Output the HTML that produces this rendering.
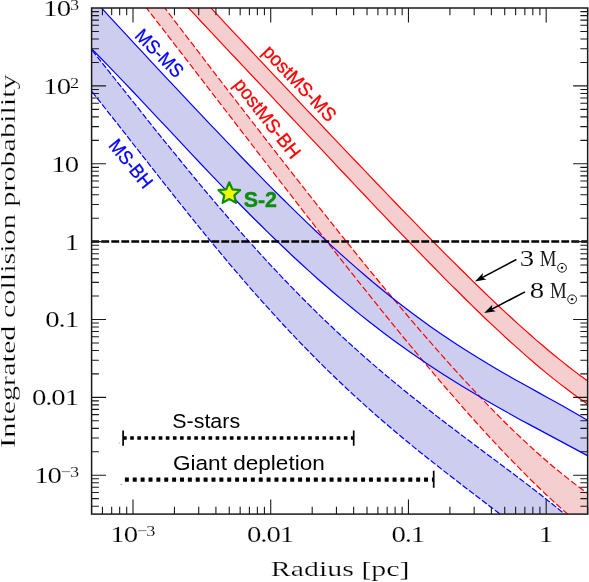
<!DOCTYPE html>
<html><head><meta charset="utf-8"><title>Integrated collision probability</title>
<style>html,body{margin:0;padding:0;background:#fff;}body{width:589px;height:582px;position:relative;overflow:hidden;font-family:"Liberation Sans",sans-serif;}</style>
</head><body>
<svg width="589" height="582" viewBox="0 0 589 582" style="position:absolute;left:0;top:0;will-change:transform;opacity:0.9999">
<defs><clipPath id="pc"><rect x="91.6" y="8.0" width="496.04999999999995" height="506.1"/></clipPath></defs>
<rect x="0" y="0" width="589" height="582" fill="#ffffff"/>
<g clip-path="url(#pc)">
<path d="M124.6 -44.9 L164.6 7.6 L171.7 17.0 L178.8 26.3 L185.9 35.6 L193.1 44.9 L200.2 54.2 L207.3 63.5 L214.4 72.8 L221.5 82.0 L228.6 91.3 L235.8 100.5 L242.9 109.7 L250.0 118.9 L257.1 128.1 L264.2 137.3 L271.3 146.4 L278.4 155.6 L285.6 164.7 L292.7 173.8 L299.8 182.8 L306.9 191.9 L314.0 200.9 L321.1 209.9 L328.3 218.9 L335.4 227.8 L342.5 236.7 L349.6 245.5 L356.7 254.3 L363.8 263.1 L370.9 271.8 L378.1 280.5 L385.2 289.1 L392.3 297.6 L399.4 306.1 L406.5 314.5 L413.6 322.9 L420.7 331.2 L427.9 339.4 L435.0 347.6 L442.1 355.6 L449.2 363.6 L456.3 371.4 L463.4 379.2 L470.6 386.9 L477.7 394.4 L484.8 401.9 L491.9 409.2 L499.0 416.4 L506.1 423.5 L513.2 430.4 L520.4 437.2 L527.5 443.9 L534.6 450.4 L541.7 456.7 L548.8 462.9 L555.9 468.9 L563.1 474.7 L570.2 480.4 L577.3 485.8 L584.4 491.0 L644.4 535.3 L627.2 567.1 L567.2 513.8 L560.1 507.4 L552.9 500.9 L545.8 494.3 L538.7 487.5 L531.5 480.5 L524.4 473.4 L517.3 466.2 L510.1 458.9 L503.0 451.4 L495.9 443.9 L488.7 436.2 L481.6 428.4 L474.5 420.5 L467.3 412.5 L460.2 404.4 L453.1 396.2 L445.9 388.0 L438.8 379.7 L431.7 371.3 L424.5 362.8 L417.4 354.2 L410.3 345.6 L403.1 337.0 L396.0 328.2 L388.9 319.4 L381.7 310.6 L374.6 301.7 L367.5 292.8 L360.3 283.9 L353.2 274.9 L346.0 265.9 L338.9 256.8 L331.8 247.7 L324.6 238.6 L317.5 229.5 L310.4 220.3 L303.2 211.1 L296.1 201.9 L289.0 192.7 L281.8 183.5 L274.7 174.3 L267.6 165.0 L260.4 155.8 L253.3 146.5 L246.2 137.2 L239.0 128.0 L231.9 118.7 L224.8 109.5 L217.6 100.2 L210.5 90.9 L203.4 81.7 L196.2 72.4 L189.1 63.1 L182.0 53.9 L174.8 44.6 L167.7 35.4 L160.6 26.2 L153.4 16.9 L146.3 7.7 L106.3 -44.0Z" fill="#f5cfcf"/>
<path d="M170.6 -35.6 L210.6 7.5 L217.0 14.4 L223.4 21.3 L229.7 28.1 L236.1 34.9 L242.5 41.7 L248.9 48.5 L255.3 55.3 L261.7 62.1 L268.0 68.9 L274.4 75.6 L280.8 82.4 L287.2 89.1 L293.6 95.8 L299.9 102.6 L306.3 109.3 L312.7 116.0 L319.1 122.7 L325.5 129.5 L331.8 136.2 L338.2 142.9 L344.6 149.6 L351.0 156.3 L357.4 163.0 L363.8 169.7 L370.1 176.3 L376.5 183.0 L382.9 189.7 L389.3 196.3 L395.7 203.0 L402.0 209.6 L408.4 216.2 L414.8 222.7 L421.2 229.3 L427.6 235.8 L433.9 242.3 L440.3 248.8 L446.7 255.3 L453.1 261.7 L459.5 268.0 L465.9 274.3 L472.2 280.6 L478.6 286.8 L485.0 293.0 L491.4 299.1 L497.8 305.2 L504.1 311.1 L510.5 317.0 L516.9 322.9 L523.3 328.6 L529.7 334.3 L536.0 339.9 L542.4 345.3 L548.8 350.7 L555.2 356.0 L561.6 361.1 L568.0 366.2 L574.3 371.1 L580.7 375.9 L587.1 380.5 L647.1 424.1 L647.1 445.9 L587.1 403.8 L580.3 399.1 L573.6 394.2 L566.8 389.1 L560.0 383.9 L553.3 378.6 L546.5 373.1 L539.7 367.5 L533.0 361.7 L526.2 355.9 L519.5 349.9 L512.7 343.9 L505.9 337.7 L499.2 331.4 L492.4 325.1 L485.6 318.7 L478.9 312.2 L472.1 305.6 L465.3 299.0 L458.6 292.3 L451.8 285.6 L445.0 278.8 L438.3 271.9 L431.5 265.0 L424.8 258.1 L418.0 251.1 L411.2 244.1 L404.5 237.1 L397.7 230.1 L390.9 223.0 L384.2 215.9 L377.4 208.8 L370.6 201.6 L363.9 194.5 L357.1 187.3 L350.3 180.2 L343.6 173.0 L336.8 165.8 L330.1 158.6 L323.3 151.4 L316.5 144.2 L309.8 137.1 L303.0 129.9 L296.2 122.7 L289.5 115.5 L282.7 108.3 L275.9 101.1 L269.2 93.9 L262.4 86.7 L255.6 79.5 L248.9 72.4 L242.1 65.2 L235.4 58.0 L228.6 50.8 L221.8 43.6 L215.1 36.4 L208.3 29.2 L201.5 22.0 L194.8 14.7 L188.0 7.5 L148.0 -35.4Z" fill="#f5cfcf"/>
<path d="M51.7 -0.1 L91.7 49.8 L99.7 59.9 L107.7 69.9 L115.7 80.0 L123.8 90.1 L131.8 100.1 L139.8 110.2 L147.8 120.3 L155.8 130.3 L163.8 140.3 L171.9 150.2 L179.9 160.0 L187.9 169.8 L195.9 179.5 L203.9 189.2 L211.9 198.7 L219.9 208.1 L228.0 217.5 L236.0 226.7 L244.0 235.8 L252.0 244.7 L260.0 253.6 L268.0 262.3 L276.1 270.9 L284.1 279.4 L292.1 287.7 L300.1 295.9 L308.1 303.9 L316.1 311.9 L324.1 319.6 L332.2 327.3 L340.2 334.8 L348.2 342.2 L356.2 349.4 L364.2 356.6 L372.2 363.6 L380.2 370.5 L388.3 377.3 L396.3 383.9 L404.3 390.5 L412.3 397.0 L420.3 403.3 L428.3 409.6 L436.4 415.9 L444.4 422.0 L452.4 428.1 L460.4 434.2 L468.4 440.2 L476.4 446.2 L484.4 452.2 L492.5 458.2 L500.5 464.2 L508.5 470.2 L516.5 476.2 L524.5 482.3 L532.5 488.5 L540.6 494.7 L548.6 501.1 L556.6 507.5 L564.6 514.1 L624.6 563.2 L557.0 557.7 L497.0 511.8 L490.1 506.5 L483.3 501.3 L476.4 496.0 L469.5 490.8 L462.6 485.5 L455.8 480.2 L448.9 474.9 L442.0 469.5 L435.2 464.1 L428.3 458.7 L421.4 453.2 L414.5 447.6 L407.7 442.0 L400.8 436.3 L393.9 430.5 L387.1 424.7 L380.2 418.8 L373.3 412.7 L366.4 406.6 L359.6 400.4 L352.7 394.1 L345.8 387.7 L339.0 381.2 L332.1 374.6 L325.2 367.9 L318.3 361.1 L311.5 354.2 L304.6 347.2 L297.7 340.0 L290.9 332.8 L284.0 325.5 L277.1 318.0 L270.3 310.5 L263.4 302.9 L256.5 295.1 L249.6 287.3 L242.8 279.4 L235.9 271.4 L229.0 263.3 L222.2 255.1 L215.3 246.8 L208.4 238.5 L201.5 230.1 L194.7 221.6 L187.8 213.1 L180.9 204.5 L174.1 195.9 L167.2 187.2 L160.3 178.5 L153.4 169.7 L146.6 161.0 L139.7 152.2 L132.8 143.5 L126.0 134.7 L119.1 125.9 L112.2 117.2 L105.3 108.5 L98.5 99.9 L91.6 91.2 L51.6 41.1Z" fill="#cdcdf0"/>
<path d="M61.5 -35.7 L101.5 7.9 L109.7 16.9 L118.0 25.8 L126.2 34.7 L134.4 43.6 L142.7 52.4 L150.9 61.3 L159.1 70.1 L167.3 78.9 L175.6 87.7 L183.8 96.4 L192.0 105.2 L200.3 113.9 L208.5 122.6 L216.7 131.2 L225.0 139.9 L233.2 148.4 L241.4 157.0 L249.6 165.5 L257.9 173.9 L266.1 182.3 L274.3 190.6 L282.6 198.8 L290.8 206.9 L299.0 214.9 L307.3 222.9 L315.5 230.7 L323.7 238.4 L332.0 246.1 L340.2 253.6 L348.4 260.9 L356.6 268.1 L364.9 275.2 L373.1 282.2 L381.3 289.0 L389.6 295.7 L397.8 302.2 L406.0 308.5 L414.3 314.7 L422.5 320.8 L430.7 326.7 L439.0 332.4 L447.2 338.0 L455.4 343.5 L463.6 348.8 L471.9 354.0 L480.1 359.1 L488.3 364.1 L496.6 368.9 L504.8 373.7 L513.0 378.4 L521.3 383.0 L529.5 387.6 L537.7 392.1 L545.9 396.7 L554.2 401.2 L562.4 405.8 L570.6 410.5 L578.9 415.2 L587.1 420.1 L647.1 455.5 L647.0 487.8 L587.0 455.4 L578.6 450.9 L570.2 446.4 L561.8 441.9 L553.4 437.4 L545.0 432.9 L536.6 428.4 L528.2 423.9 L519.8 419.4 L511.4 414.7 L503.0 410.1 L494.6 405.3 L486.2 400.5 L477.8 395.6 L469.4 390.6 L461.0 385.5 L452.6 380.3 L444.2 375.0 L435.8 369.5 L427.4 364.0 L419.0 358.3 L410.6 352.5 L402.2 346.5 L393.8 340.4 L385.4 334.2 L377.0 327.8 L368.6 321.3 L360.2 314.6 L351.8 307.8 L343.4 300.9 L334.9 293.8 L326.5 286.5 L318.1 279.2 L309.7 271.6 L301.3 264.0 L292.9 256.2 L284.5 248.3 L276.1 240.3 L267.7 232.1 L259.3 223.8 L250.9 215.5 L242.5 207.0 L234.1 198.5 L225.7 189.8 L217.3 181.1 L208.9 172.3 L200.5 163.5 L192.1 154.6 L183.7 145.7 L175.3 136.7 L166.9 127.7 L158.5 118.8 L150.1 109.8 L141.7 100.9 L133.3 92.0 L124.9 83.1 L116.5 74.3 L108.1 65.6 L99.7 57.0 L91.3 48.5 L51.3 8.1Z" fill="#cdcdf0"/>
<path d="M124.6 -44.9 L164.6 7.6 L171.7 17.0 L178.8 26.3 L185.9 35.6 L193.1 44.9 L200.2 54.2 L207.3 63.5 L214.4 72.8 L221.5 82.0 L228.6 91.3 L235.8 100.5 L242.9 109.7 L250.0 118.9 L257.1 128.1 L264.2 137.3 L271.3 146.4 L278.4 155.6 L285.6 164.7 L292.7 173.8 L299.8 182.8 L306.9 191.9 L314.0 200.9 L321.1 209.9 L328.3 218.9 L335.4 227.8 L342.5 236.7 L349.6 245.5 L356.7 254.3 L363.8 263.1 L370.9 271.8 L378.1 280.5 L385.2 289.1 L392.3 297.6 L399.4 306.1 L406.5 314.5 L413.6 322.9 L420.7 331.2 L427.9 339.4 L435.0 347.6 L442.1 355.6 L449.2 363.6 L456.3 371.4 L463.4 379.2 L470.6 386.9 L477.7 394.4 L484.8 401.9 L491.9 409.2 L499.0 416.4 L506.1 423.5 L513.2 430.4 L520.4 437.2 L527.5 443.9 L534.6 450.4 L541.7 456.7 L548.8 462.9 L555.9 468.9 L563.1 474.7 L570.2 480.4 L577.3 485.8 L584.4 491.0 L644.4 535.3" fill="none" stroke="#ff0000" stroke-width="1.2" stroke-dasharray="6.5 2.6"/>
<path d="M106.3 -44.0 L146.3 7.7 L153.4 16.9 L160.6 26.2 L167.7 35.4 L174.8 44.6 L182.0 53.9 L189.1 63.1 L196.2 72.4 L203.4 81.7 L210.5 90.9 L217.6 100.2 L224.8 109.5 L231.9 118.7 L239.0 128.0 L246.2 137.2 L253.3 146.5 L260.4 155.8 L267.6 165.0 L274.7 174.3 L281.8 183.5 L289.0 192.7 L296.1 201.9 L303.2 211.1 L310.4 220.3 L317.5 229.5 L324.6 238.6 L331.8 247.7 L338.9 256.8 L346.0 265.9 L353.2 274.9 L360.3 283.9 L367.5 292.8 L374.6 301.7 L381.7 310.6 L388.9 319.4 L396.0 328.2 L403.1 337.0 L410.3 345.6 L417.4 354.2 L424.5 362.8 L431.7 371.3 L438.8 379.7 L445.9 388.0 L453.1 396.2 L460.2 404.4 L467.3 412.5 L474.5 420.5 L481.6 428.4 L488.7 436.2 L495.9 443.9 L503.0 451.4 L510.1 458.9 L517.3 466.2 L524.4 473.4 L531.5 480.5 L538.7 487.5 L545.8 494.3 L552.9 500.9 L560.1 507.4 L567.2 513.8 L627.2 567.1" fill="none" stroke="#ff0000" stroke-width="1.2" stroke-dasharray="6.5 2.6"/>
<path d="M170.6 -35.6 L210.6 7.5 L217.0 14.4 L223.4 21.3 L229.7 28.1 L236.1 34.9 L242.5 41.7 L248.9 48.5 L255.3 55.3 L261.7 62.1 L268.0 68.9 L274.4 75.6 L280.8 82.4 L287.2 89.1 L293.6 95.8 L299.9 102.6 L306.3 109.3 L312.7 116.0 L319.1 122.7 L325.5 129.5 L331.8 136.2 L338.2 142.9 L344.6 149.6 L351.0 156.3 L357.4 163.0 L363.8 169.7 L370.1 176.3 L376.5 183.0 L382.9 189.7 L389.3 196.3 L395.7 203.0 L402.0 209.6 L408.4 216.2 L414.8 222.7 L421.2 229.3 L427.6 235.8 L433.9 242.3 L440.3 248.8 L446.7 255.3 L453.1 261.7 L459.5 268.0 L465.9 274.3 L472.2 280.6 L478.6 286.8 L485.0 293.0 L491.4 299.1 L497.8 305.2 L504.1 311.1 L510.5 317.0 L516.9 322.9 L523.3 328.6 L529.7 334.3 L536.0 339.9 L542.4 345.3 L548.8 350.7 L555.2 356.0 L561.6 361.1 L568.0 366.2 L574.3 371.1 L580.7 375.9 L587.1 380.5 L647.1 424.1" fill="none" stroke="#ff0000" stroke-width="1.2"/>
<path d="M148.0 -35.4 L188.0 7.5 L194.8 14.7 L201.5 22.0 L208.3 29.2 L215.1 36.4 L221.8 43.6 L228.6 50.8 L235.4 58.0 L242.1 65.2 L248.9 72.4 L255.6 79.5 L262.4 86.7 L269.2 93.9 L275.9 101.1 L282.7 108.3 L289.5 115.5 L296.2 122.7 L303.0 129.9 L309.8 137.1 L316.5 144.2 L323.3 151.4 L330.1 158.6 L336.8 165.8 L343.6 173.0 L350.3 180.2 L357.1 187.3 L363.9 194.5 L370.6 201.6 L377.4 208.8 L384.2 215.9 L390.9 223.0 L397.7 230.1 L404.5 237.1 L411.2 244.1 L418.0 251.1 L424.8 258.1 L431.5 265.0 L438.3 271.9 L445.0 278.8 L451.8 285.6 L458.6 292.3 L465.3 299.0 L472.1 305.6 L478.9 312.2 L485.6 318.7 L492.4 325.1 L499.2 331.4 L505.9 337.7 L512.7 343.9 L519.5 349.9 L526.2 355.9 L533.0 361.7 L539.7 367.5 L546.5 373.1 L553.3 378.6 L560.0 383.9 L566.8 389.1 L573.6 394.2 L580.3 399.1 L587.1 403.8 L647.1 445.9" fill="none" stroke="#ff0000" stroke-width="1.2"/>
<path d="M51.7 -0.1 L91.7 49.8 L99.7 59.9 L107.7 69.9 L115.7 80.0 L123.8 90.1 L131.8 100.1 L139.8 110.2 L147.8 120.3 L155.8 130.3 L163.8 140.3 L171.9 150.2 L179.9 160.0 L187.9 169.8 L195.9 179.5 L203.9 189.2 L211.9 198.7 L219.9 208.1 L228.0 217.5 L236.0 226.7 L244.0 235.8 L252.0 244.7 L260.0 253.6 L268.0 262.3 L276.1 270.9 L284.1 279.4 L292.1 287.7 L300.1 295.9 L308.1 303.9 L316.1 311.9 L324.1 319.6 L332.2 327.3 L340.2 334.8 L348.2 342.2 L356.2 349.4 L364.2 356.6 L372.2 363.6 L380.2 370.5 L388.3 377.3 L396.3 383.9 L404.3 390.5 L412.3 397.0 L420.3 403.3 L428.3 409.6 L436.4 415.9 L444.4 422.0 L452.4 428.1 L460.4 434.2 L468.4 440.2 L476.4 446.2 L484.4 452.2 L492.5 458.2 L500.5 464.2 L508.5 470.2 L516.5 476.2 L524.5 482.3 L532.5 488.5 L540.6 494.7 L548.6 501.1 L556.6 507.5 L564.6 514.1 L624.6 563.2" fill="none" stroke="#0000ff" stroke-width="1.2" stroke-dasharray="6.1 2"/>
<path d="M51.6 41.1 L91.6 91.2 L98.5 99.9 L105.3 108.5 L112.2 117.2 L119.1 125.9 L126.0 134.7 L132.8 143.5 L139.7 152.2 L146.6 161.0 L153.4 169.7 L160.3 178.5 L167.2 187.2 L174.1 195.9 L180.9 204.5 L187.8 213.1 L194.7 221.6 L201.5 230.1 L208.4 238.5 L215.3 246.8 L222.2 255.1 L229.0 263.3 L235.9 271.4 L242.8 279.4 L249.6 287.3 L256.5 295.1 L263.4 302.9 L270.3 310.5 L277.1 318.0 L284.0 325.5 L290.9 332.8 L297.7 340.0 L304.6 347.2 L311.5 354.2 L318.3 361.1 L325.2 367.9 L332.1 374.6 L339.0 381.2 L345.8 387.7 L352.7 394.1 L359.6 400.4 L366.4 406.6 L373.3 412.7 L380.2 418.8 L387.1 424.7 L393.9 430.5 L400.8 436.3 L407.7 442.0 L414.5 447.6 L421.4 453.2 L428.3 458.7 L435.2 464.1 L442.0 469.5 L448.9 474.9 L455.8 480.2 L462.6 485.5 L469.5 490.8 L476.4 496.0 L483.3 501.3 L490.1 506.5 L497.0 511.8 L557.0 557.7" fill="none" stroke="#0000ff" stroke-width="1.2" stroke-dasharray="6.1 2"/>
<path d="M61.5 -35.7 L101.5 7.9 L109.7 16.9 L118.0 25.8 L126.2 34.7 L134.4 43.6 L142.7 52.4 L150.9 61.3 L159.1 70.1 L167.3 78.9 L175.6 87.7 L183.8 96.4 L192.0 105.2 L200.3 113.9 L208.5 122.6 L216.7 131.2 L225.0 139.9 L233.2 148.4 L241.4 157.0 L249.6 165.5 L257.9 173.9 L266.1 182.3 L274.3 190.6 L282.6 198.8 L290.8 206.9 L299.0 214.9 L307.3 222.9 L315.5 230.7 L323.7 238.4 L332.0 246.1 L340.2 253.6 L348.4 260.9 L356.6 268.1 L364.9 275.2 L373.1 282.2 L381.3 289.0 L389.6 295.7 L397.8 302.2 L406.0 308.5 L414.3 314.7 L422.5 320.8 L430.7 326.7 L439.0 332.4 L447.2 338.0 L455.4 343.5 L463.6 348.8 L471.9 354.0 L480.1 359.1 L488.3 364.1 L496.6 368.9 L504.8 373.7 L513.0 378.4 L521.3 383.0 L529.5 387.6 L537.7 392.1 L545.9 396.7 L554.2 401.2 L562.4 405.8 L570.6 410.5 L578.9 415.2 L587.1 420.1 L647.1 455.5" fill="none" stroke="#0000ff" stroke-width="1.2"/>
<path d="M51.3 8.1 L91.3 48.5 L99.7 57.0 L108.1 65.6 L116.5 74.3 L124.9 83.1 L133.3 92.0 L141.7 100.9 L150.1 109.8 L158.5 118.8 L166.9 127.7 L175.3 136.7 L183.7 145.7 L192.1 154.6 L200.5 163.5 L208.9 172.3 L217.3 181.1 L225.7 189.8 L234.1 198.5 L242.5 207.0 L250.9 215.5 L259.3 223.8 L267.7 232.1 L276.1 240.3 L284.5 248.3 L292.9 256.2 L301.3 264.0 L309.7 271.6 L318.1 279.2 L326.5 286.5 L334.9 293.8 L343.4 300.9 L351.8 307.8 L360.2 314.6 L368.6 321.3 L377.0 327.8 L385.4 334.2 L393.8 340.4 L402.2 346.5 L410.6 352.5 L419.0 358.3 L427.4 364.0 L435.8 369.5 L444.2 375.0 L452.6 380.3 L461.0 385.5 L469.4 390.6 L477.8 395.6 L486.2 400.5 L494.6 405.3 L503.0 410.1 L511.4 414.7 L519.8 419.4 L528.2 423.9 L536.6 428.4 L545.0 432.9 L553.4 437.4 L561.8 441.9 L570.2 446.4 L578.6 450.9 L587.0 455.4 L647.0 487.8" fill="none" stroke="#0000ff" stroke-width="1.2"/>
<path d="M91.3 241.5 H587.65" stroke="#000" stroke-width="2.3" stroke-dasharray="7.9 2.1" fill="none"/>
</g>
<path d="M91.54 514.1 v-7.3 M91.54 8.0 v7.3 M102.44 514.1 v-7.3 M102.44 8.0 v7.3 M111.67 514.1 v-7.3 M111.67 8.0 v7.3 M119.65 514.1 v-7.3 M119.65 8.0 v7.3 M126.70 514.1 v-7.3 M126.70 8.0 v7.3 M133.00 514.1 v-14.5 M133.00 8.0 v14.5 M174.46 514.1 v-7.3 M174.46 8.0 v7.3 M198.71 514.1 v-7.3 M198.71 8.0 v7.3 M215.92 514.1 v-7.3 M215.92 8.0 v7.3 M229.27 514.1 v-7.3 M229.27 8.0 v7.3 M240.17 514.1 v-7.3 M240.17 8.0 v7.3 M249.40 514.1 v-7.3 M249.40 8.0 v7.3 M257.38 514.1 v-7.3 M257.38 8.0 v7.3 M264.43 514.1 v-7.3 M264.43 8.0 v7.3 M270.73 514.1 v-14.5 M270.73 8.0 v14.5 M312.19 514.1 v-7.3 M312.19 8.0 v7.3 M336.44 514.1 v-7.3 M336.44 8.0 v7.3 M353.65 514.1 v-7.3 M353.65 8.0 v7.3 M367.00 514.1 v-7.3 M367.00 8.0 v7.3 M377.90 514.1 v-7.3 M377.90 8.0 v7.3 M387.13 514.1 v-7.3 M387.13 8.0 v7.3 M395.11 514.1 v-7.3 M395.11 8.0 v7.3 M402.16 514.1 v-7.3 M402.16 8.0 v7.3 M408.46 514.1 v-14.5 M408.46 8.0 v14.5 M449.92 514.1 v-7.3 M449.92 8.0 v7.3 M474.17 514.1 v-7.3 M474.17 8.0 v7.3 M491.38 514.1 v-7.3 M491.38 8.0 v7.3 M504.73 514.1 v-7.3 M504.73 8.0 v7.3 M515.63 514.1 v-7.3 M515.63 8.0 v7.3 M524.86 514.1 v-7.3 M524.86 8.0 v7.3 M532.84 514.1 v-7.3 M532.84 8.0 v7.3 M539.89 514.1 v-7.3 M539.89 8.0 v7.3 M546.19 514.1 v-14.5 M546.19 8.0 v14.5 M587.65 514.1 v-7.3 M587.65 8.0 v7.3 M91.6 506.19 h7.3 M587.65 506.19 h-7.3 M91.6 498.65 h7.3 M587.65 498.65 h-7.3 M91.6 492.48 h7.3 M587.65 492.48 h-7.3 M91.6 487.27 h7.3 M587.65 487.27 h-7.3 M91.6 482.76 h7.3 M587.65 482.76 h-7.3 M91.6 478.77 h7.3 M587.65 478.77 h-7.3 M91.6 475.21 h14.5 M587.65 475.21 h-14.5 M91.6 451.77 h7.3 M587.65 451.77 h-7.3 M91.6 438.06 h7.3 M587.65 438.06 h-7.3 M91.6 428.33 h7.3 M587.65 428.33 h-7.3 M91.6 420.79 h7.3 M587.65 420.79 h-7.3 M91.6 414.62 h7.3 M587.65 414.62 h-7.3 M91.6 409.41 h7.3 M587.65 409.41 h-7.3 M91.6 404.90 h7.3 M587.65 404.90 h-7.3 M91.6 400.91 h7.3 M587.65 400.91 h-7.3 M91.6 397.35 h14.5 M587.65 397.35 h-14.5 M91.6 373.91 h7.3 M587.65 373.91 h-7.3 M91.6 360.20 h7.3 M587.65 360.20 h-7.3 M91.6 350.47 h7.3 M587.65 350.47 h-7.3 M91.6 342.93 h7.3 M587.65 342.93 h-7.3 M91.6 336.76 h7.3 M587.65 336.76 h-7.3 M91.6 331.55 h7.3 M587.65 331.55 h-7.3 M91.6 327.04 h7.3 M587.65 327.04 h-7.3 M91.6 323.05 h7.3 M587.65 323.05 h-7.3 M91.6 319.49 h14.5 M587.65 319.49 h-14.5 M91.6 296.05 h7.3 M587.65 296.05 h-7.3 M91.6 282.34 h7.3 M587.65 282.34 h-7.3 M91.6 272.61 h7.3 M587.65 272.61 h-7.3 M91.6 265.07 h7.3 M587.65 265.07 h-7.3 M91.6 258.90 h7.3 M587.65 258.90 h-7.3 M91.6 253.69 h7.3 M587.65 253.69 h-7.3 M91.6 249.18 h7.3 M587.65 249.18 h-7.3 M91.6 245.19 h7.3 M587.65 245.19 h-7.3 M91.6 241.63 h14.5 M587.65 241.63 h-14.5 M91.6 218.19 h7.3 M587.65 218.19 h-7.3 M91.6 204.48 h7.3 M587.65 204.48 h-7.3 M91.6 194.75 h7.3 M587.65 194.75 h-7.3 M91.6 187.21 h7.3 M587.65 187.21 h-7.3 M91.6 181.04 h7.3 M587.65 181.04 h-7.3 M91.6 175.83 h7.3 M587.65 175.83 h-7.3 M91.6 171.32 h7.3 M587.65 171.32 h-7.3 M91.6 167.33 h7.3 M587.65 167.33 h-7.3 M91.6 163.77 h14.5 M587.65 163.77 h-14.5 M91.6 140.33 h7.3 M587.65 140.33 h-7.3 M91.6 126.62 h7.3 M587.65 126.62 h-7.3 M91.6 116.89 h7.3 M587.65 116.89 h-7.3 M91.6 109.35 h7.3 M587.65 109.35 h-7.3 M91.6 103.18 h7.3 M587.65 103.18 h-7.3 M91.6 97.97 h7.3 M587.65 97.97 h-7.3 M91.6 93.46 h7.3 M587.65 93.46 h-7.3 M91.6 89.47 h7.3 M587.65 89.47 h-7.3 M91.6 85.91 h14.5 M587.65 85.91 h-14.5 M91.6 62.47 h7.3 M587.65 62.47 h-7.3 M91.6 48.76 h7.3 M587.65 48.76 h-7.3 M91.6 39.03 h7.3 M587.65 39.03 h-7.3 M91.6 31.49 h7.3 M587.65 31.49 h-7.3 M91.6 25.32 h7.3 M587.65 25.32 h-7.3 M91.6 20.11 h7.3 M587.65 20.11 h-7.3 M91.6 15.60 h7.3 M587.65 15.60 h-7.3 M91.6 11.61 h7.3 M587.65 11.61 h-7.3" stroke="#1a1a1a" stroke-width="1.1" fill="none"/>
<rect x="91.6" y="8.0" width="496.04999999999995" height="506.1" fill="none" stroke="#1a1a1a" stroke-width="1.5"/>
<path d="M123.1 438.1 H353.7 M124.9 479.6 H433.7" stroke="#bfe6bf" stroke-width="0.4" fill="none"/>
<path d="M120.3 484.4 h1.9 M118.7 443 h1.5" stroke="#8a8a8a" stroke-width="0.7" fill="none"/>
<path d="M123.1 438.1 H353.7" stroke="#000" stroke-width="3.5" stroke-dasharray="3.6 3.52" fill="none"/>
<path d="M123.1 430.5 V445.7 M353.7 430.5 V445.7" stroke="#000" stroke-width="1.7" fill="none"/>
<path d="M124.9 479.6 H433.7" stroke="#000" stroke-width="4.1" stroke-dasharray="3.95 3.923" fill="none"/>
<path d="M433.7 470.7 V487.8" stroke="#000" stroke-width="1.7" fill="none"/>
<text x="172.3" y="427.9" font-size="20.5" font-family="Liberation Sans, sans-serif" fill="#000" text-anchor="start" textLength="67.8" lengthAdjust="spacingAndGlyphs" >S-stars</text>
<text x="173.0" y="469.5" font-size="20.5" font-family="Liberation Sans, sans-serif" fill="#000" text-anchor="start" textLength="151.8" lengthAdjust="spacingAndGlyphs" >Giant depletion</text>
<text transform="translate(159.4 53.3) rotate(45)" x="0" y="0" font-size="19.3" font-family="Liberation Sans, sans-serif" fill="#0000ff" stroke="#0000ff" stroke-width="0.3" text-anchor="middle" dominant-baseline="central" textLength="59.5" lengthAdjust="spacingAndGlyphs">MS-MS</text>
<text transform="translate(130.8 163.7) rotate(51)" x="0" y="0" font-size="19.3" font-family="Liberation Sans, sans-serif" fill="#0000ff" stroke="#0000ff" stroke-width="0.3" text-anchor="middle" dominant-baseline="central" textLength="57" lengthAdjust="spacingAndGlyphs">MS-BH</text>
<text transform="translate(299.5 83.4) rotate(46.5)" x="0" y="0" font-size="19.3" font-family="Liberation Sans, sans-serif" fill="#ff0000" stroke="#ff0000" stroke-width="0.3" text-anchor="middle" dominant-baseline="central" textLength="97" lengthAdjust="spacingAndGlyphs">postMS-MS</text>
<text transform="translate(267.3 118.5) rotate(52)" x="0" y="0" font-size="19.3" font-family="Liberation Sans, sans-serif" fill="#ff0000" stroke="#ff0000" stroke-width="0.3" text-anchor="middle" dominant-baseline="central" textLength="95.5" lengthAdjust="spacingAndGlyphs">postMS-BH</text>
<polygon points="229.30,182.30 232.42,189.41 240.14,190.18 234.34,195.34 236.00,202.92 229.30,199.00 222.60,202.92 224.26,195.34 218.46,190.18 226.18,189.41" fill="#f2fa00" stroke="#0d8d0d" stroke-width="2.2" stroke-linejoin="round"/>
<text x="243.7" y="207.0" font-size="21.6" font-family="Liberation Sans, sans-serif" font-weight="bold" fill="#0d8d0d" stroke="#0d8d0d" stroke-width="0.4" textLength="33.3" lengthAdjust="spacingAndGlyphs">S-2</text>
<path d="M516.4 259.5 L482.1 277.6" stroke="#000" stroke-width="1.6" fill="none"/><polygon points="474.9,281.4 483.0,272.9 482.3,277.5 486.4,279.5" fill="#000"/>
<path d="M525.0 291.9 L491.4 309.4" stroke="#000" stroke-width="1.6" fill="none"/><polygon points="484.2,313.1 492.3,304.7 491.7,309.2 495.8,311.3" fill="#000"/>
<g transform="translate(519.8 265.8) scale(1.2 1)"><text x="0" y="0" font-size="24" font-family="Liberation Serif, serif" fill="#000" stroke="#fff" stroke-width="0.15">3</text></g><g transform="translate(539.8 265.8) scale(0.84 1)"><text x="0" y="0" font-size="22.4" font-family="Liberation Serif, serif" fill="#1a1a1a">M</text></g><circle cx="562.0" cy="267.8" r="4.4" fill="none" stroke="#1a1a1a" stroke-width="1"/><circle cx="562.0" cy="267.8" r="1.25" fill="#1a1a1a"/>
<g transform="translate(529.8 297.6) scale(1.2 1)"><text x="0" y="0" font-size="24" font-family="Liberation Serif, serif" fill="#000" stroke="#fff" stroke-width="0.15">8</text></g><g transform="translate(550.1 297.6) scale(0.84 1)"><text x="0" y="0" font-size="22.4" font-family="Liberation Serif, serif" fill="#1a1a1a">M</text></g><circle cx="572.1" cy="299.3" r="4.4" fill="none" stroke="#1a1a1a" stroke-width="1"/><circle cx="572.1" cy="299.3" r="1.25" fill="#1a1a1a"/>
<g transform="translate(78.0 16.2) scale(1.2 1)"><text x="0" y="0" font-size="24" font-family="Liberation Serif, serif" fill="#000" stroke="#fff" stroke-width="0.15" text-anchor="end" letter-spacing="-0.9">10<tspan font-size="15.2" dy="-5.8">3</tspan></text></g>
<g transform="translate(78.0 93.8) scale(1.2 1)"><text x="0" y="0" font-size="24" font-family="Liberation Serif, serif" fill="#000" stroke="#fff" stroke-width="0.15" text-anchor="end" letter-spacing="-0.9">10<tspan font-size="15.2" dy="-5.8">2</tspan></text></g>
<g transform="translate(78.0 171.7) scale(1.2 1)"><text x="0" y="0" font-size="24" font-family="Liberation Serif, serif" fill="#000" stroke="#fff" stroke-width="0.15" text-anchor="end" letter-spacing="-0.9">10</text></g>
<g transform="translate(78.0 249.5) scale(1.2 1)"><text x="0" y="0" font-size="24" font-family="Liberation Serif, serif" fill="#000" stroke="#fff" stroke-width="0.15" text-anchor="end" letter-spacing="-0.9">1</text></g>
<g transform="translate(78.0 327.4) scale(1.2 1)"><text x="0" y="0" font-size="24" font-family="Liberation Serif, serif" fill="#000" stroke="#fff" stroke-width="0.15" text-anchor="end" letter-spacing="-0.9">0.1</text></g>
<g transform="translate(78.0 405.2) scale(1.2 1)"><text x="0" y="0" font-size="24" font-family="Liberation Serif, serif" fill="#000" stroke="#fff" stroke-width="0.15" text-anchor="end" letter-spacing="-0.9">0.01</text></g>
<g transform="translate(78.0 483.1) scale(1.2 1)"><text x="0" y="0" font-size="24" font-family="Liberation Serif, serif" fill="#000" stroke="#fff" stroke-width="0.15" text-anchor="end" letter-spacing="-0.9">10<tspan font-size="15.2" dy="-5.8">−3</tspan></text></g>
<g transform="translate(132.3 541.5) scale(1.2 1)"><text x="0" y="0" font-size="24" font-family="Liberation Serif, serif" fill="#000" stroke="#fff" stroke-width="0.15" text-anchor="middle" letter-spacing="-0.9">10<tspan font-size="15.2" dy="-5.8">−3</tspan></text></g>
<g transform="translate(270.0 541.5) scale(1.2 1)"><text x="0" y="0" font-size="24" font-family="Liberation Serif, serif" fill="#000" stroke="#fff" stroke-width="0.15" text-anchor="middle" letter-spacing="-0.9">0.01</text></g>
<g transform="translate(407.8 541.5) scale(1.2 1)"><text x="0" y="0" font-size="24" font-family="Liberation Serif, serif" fill="#000" stroke="#fff" stroke-width="0.15" text-anchor="middle" letter-spacing="-0.9">0.1</text></g>
<g transform="translate(545.5 541.5) scale(1.2 1)"><text x="0" y="0" font-size="24" font-family="Liberation Serif, serif" fill="#000" stroke="#fff" stroke-width="0.15" text-anchor="middle" letter-spacing="-0.9">1</text></g>
<text x="340.2" y="576.3" font-size="21.3" font-family="Liberation Serif, serif" fill="#000" text-anchor="middle" textLength="138.8" lengthAdjust="spacingAndGlyphs" stroke="#fff" stroke-width="0.22">Radius [pc]</text>
<text transform="translate(15.2 261.1) rotate(-90)" x="0" y="0" font-size="21.5" font-family="Liberation Serif, serif" fill="#000" stroke="#fff" stroke-width="0.22" text-anchor="middle" textLength="373.5" lengthAdjust="spacingAndGlyphs">Integrated collision probability</text>
</svg>
</body></html>
